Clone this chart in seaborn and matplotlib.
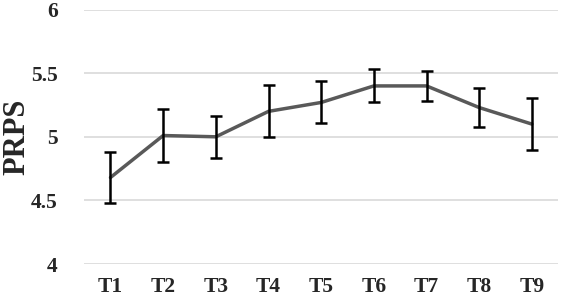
import matplotlib
matplotlib.use('Agg')
import matplotlib.pyplot as plt
import numpy as np
import pandas as pd
import seaborn as sns

# 資料
times = ['T1', 'T2', 'T3', 'T4', 'T5', 'T6', 'T7', 'T8', 'T9']
prps_mean = [4.68, 5.01, 5.00, 5.20, 5.27, 5.40, 5.40, 5.23, 5.10]
prps_err = [0.20, 0.21, 0.165, 0.205, 0.165, 0.13, 0.12, 0.155, 0.205]
y_ticks = [4, 4.5, 5, 5.5, 6]
y_ticklabels = ['4', '4.5', '5', '5.5', '6']

sns.set_style('white')
plt.rcParams['font.family'] = ['Liberation Serif', 'DejaVu Serif']
plt.rcParams['font.weight'] = 'bold'

df = pd.DataFrame({'time': times, 'prps': prps_mean})

fig = plt.figure(figsize=(5.61, 3.00), dpi=100)
ax = fig.add_axes([0.15, 0.12, 0.845, 0.848])

sns.lineplot(data=df, x='time', y='prps', color='#595959', linewidth=2.5,
             sort=False, ax=ax, zorder=3)
ax.errorbar(np.arange(len(times)), prps_mean, yerr=prps_err, fmt='none',
            ecolor='black', elinewidth=1.8, capsize=4.5, capthick=1.8, zorder=4)

ax.set_ylim(4, 6)
ax.set_xlim(-0.5, len(times) - 0.5)
ax.set_yticks(y_ticks)
ax.set_yticklabels(y_ticklabels)
ax.yaxis.grid(True, color='#d9d9d9', linewidth=1.2)
ax.xaxis.grid(False)
for s in ax.spines.values():
    s.set_visible(False)
ax.tick_params(axis='both', length=0, labelsize=15.5)
ax.tick_params(axis='y', pad=19)
ax.tick_params(axis='x', pad=9)
for lbl in ax.get_xticklabels() + ax.get_yticklabels():
    lbl.set_fontweight('bold')

ax.set_xlabel('')
ax.set_ylabel('PRPS', fontsize=22, fontweight='bold')
ax.yaxis.set_label_coords(-0.112, 0.5)

fig.savefig('out.png', dpi=100)
